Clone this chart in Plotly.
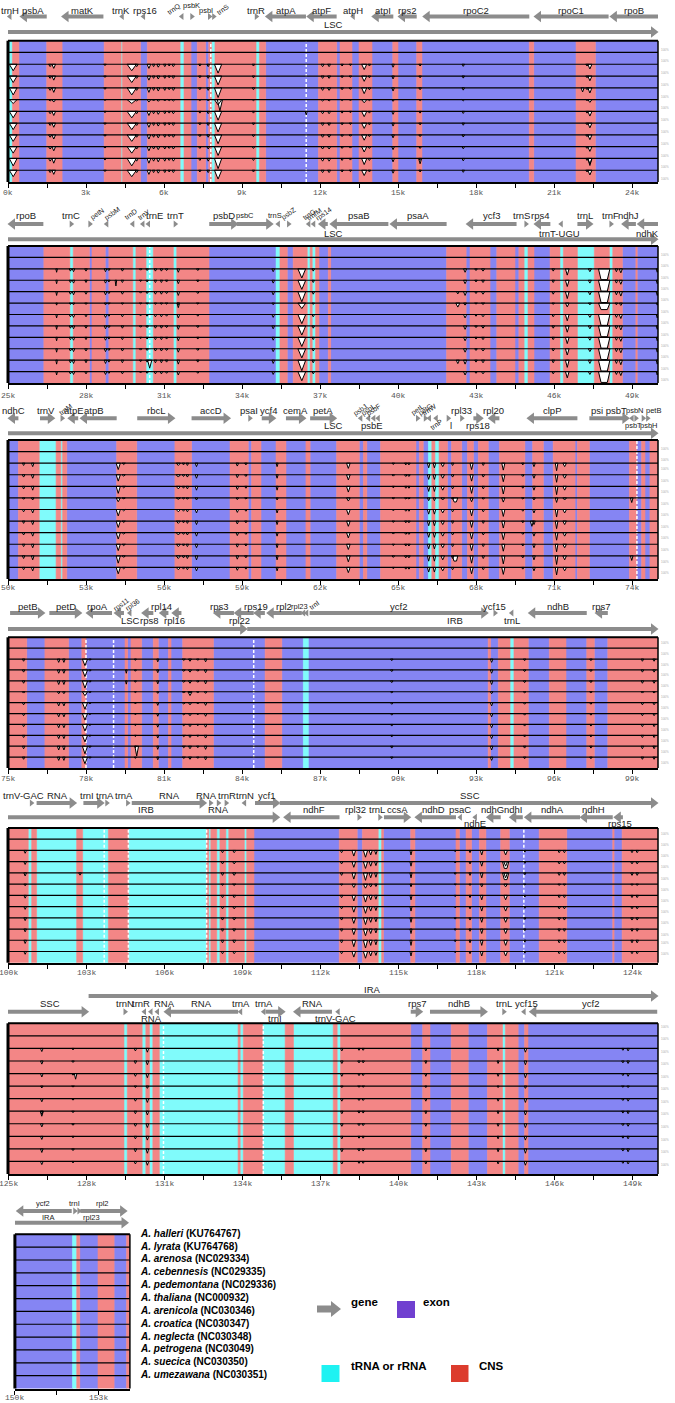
import plotly.graph_objects as go

# ------------------------------------------------------------------ data
SPECIES = ["A. halleri", "A. lyrata", "A. arenosa", "A. cebennesis", "A. pedemontana",
           "A. thaliana", "A. arenicola", "A. croatica", "A. neglecta", "A. petrogena",
           "A. suecica", "A. umezawana"]
ACCESSIONS = ["KU764767", "KU764768", "NC029334", "NC029335", "NC029336", "NC000932",
              "NC030346", "NC030347", "NC030348", "NC03049", "NC030350", "NC030351"]

PANEL_KB = [(0, 25), (25, 50), (50, 75), (75, 100), (100, 125), (125, 150), (150, 154.15)]

# relative dip depth per species row (reference and A. lyrata are flat)
ROW_SCALE = [0, 0, 1.0, 1.0, 1.1, 0.6, 1.0, 1.0, 1.0, 1.0, 1.15, 1.0]

# annotation background: (segment end kb, kind)  e=exon, t=tRNA/rRNA, c=CNS
SEG_P1 = [(0.17, "t"), (0.42, "c"), (1.49, "e"), (2.08, "c"), (3.70, "e"), (4.35, "c"), (4.40, "t"),
          (5.10, "c"), (5.36, "e"), (6.62, "c"), (6.77, "t"), (7.04, "c"), (7.28, "e"), (7.60, "c"),
          (7.72, "e"), (7.83, "c"), (7.96, "t"), (9.54, "c"), (9.67, "t"), (9.91, "c"), (11.94, "e"),
          (12.64, "c"), (12.77, "e"), (13.23, "c"), (13.50, "e"), (14.00, "c"), (14.80, "e"),
          (15.00, "c"), (15.72, "e"), (15.92, "c"), (20.05, "e"), (20.22, "c"), (21.85, "e"),
          (22.59, "c"), (25.00, "e")]
SEG_P2 = [(26.38, "e"), (27.38, "c"), (27.51, "t"), (28.13, "c"), (28.23, "e"), (28.74, "c"),
          (28.88, "e"), (29.80, "c"), (29.92, "t"), (30.31, "c"), (30.59, "t"), (31.36, "c"),
          (31.49, "t"), (32.73, "c"), (35.31, "e"), (35.46, "t"), (35.74, "c"), (35.97, "e"),
          (36.51, "c"), (36.62, "t"), (36.70, "c"), (36.83, "t"), (36.96, "c"), (37.32, "e"),
          (37.41, "c"), (41.87, "e"), (42.62, "c"), (42.77, "e"), (43.54, "c"), (43.80, "e"),
          (44.50, "c"), (44.65, "e"), (44.85, "c"), (45.00, "t"), (45.23, "c"), (45.85, "e"),
          (46.23, "c"), (46.36, "t"), (46.90, "c"), (47.55, "t"), (48.13, "c"), (48.26, "t"),
          (48.63, "c"), (49.15, "e"), (49.20, "c"), (50.00, "e")]
SEG_P3 = [(50.40, "e"), (51.20, "c"), (51.85, "t"), (52.03, "c"), (52.10, "t"), (52.26, "c"),
          (54.18, "e"), (54.95, "c"), (56.42, "e"), (57.06, "c"), (58.54, "e"), (59.24, "c"),
          (59.37, "e"), (59.73, "c"), (60.31, "e"), (60.69, "c"), (61.46, "e"), (61.62, "c"),
          (62.64, "e"), (63.51, "c"), (63.67, "e"), (63.80, "c"), (64.33, "e"), (65.69, "c"),
          (65.82, "e"), (65.97, "c"), (66.17, "e"), (66.30, "t"), (66.42, "c"), (66.58, "t"),
          (66.90, "c"), (67.06, "e"), (67.45, "c"), (67.67, "e"), (67.90, "c"), (68.09, "e"),
          (68.47, "c"), (68.90, "e"), (69.88, "c"), (70.18, "e"), (70.59, "c"), (70.97, "e"),
          (71.81, "c"), (71.90, "e"), (72.36, "c"), (73.90, "e"), (74.18, "c"), (74.37, "e"),
          (74.50, "c"), (74.69, "e"), (75.00, "c")]
SEG_P4 = [(75.72, "c"), (76.42, "e"), (77.33, "c"), (77.84, "e"), (78.00, "c"), (79.50, "e"),
          (79.60, "c"), (79.73, "e"), (80.14, "c"), (80.59, "e"), (80.78, "c"), (81.17, "e"),
          (81.27, "c"), (81.72, "e"), (82.90, "c"), (84.89, "e"), (85.53, "c"), (86.36, "e"),
          (86.55, "t"), (93.47, "e"), (93.56, "c"), (93.86, "e"), (94.31, "c"), (94.46, "t"),
          (95.01, "c"), (95.82, "e"), (96.46, "c"), (97.26, "e"), (97.55, "c"), (98.07, "e"),
          (100.0, "c")]
SEG_P5 = [(100.78, "c"), (100.91, "t"), (101.10, "c"), (102.64, "t"), (102.87, "c"), (103.86, "t"),
          (104.63, "c"), (107.64, "t"), (107.72, "c"), (107.80, "t"), (108.03, "c"), (108.15, "t"),
          (108.38, "c"), (108.49, "t"), (109.09, "c"), (109.18, "t"), (109.46, "c"), (112.74, "e"),
          (113.43, "c"), (113.63, "e"), (114.24, "c"), (114.37, "t"), (114.44, "c"), (115.49, "e"),
          (115.65, "c"), (117.23, "e"), (117.36, "c"), (117.62, "e"), (117.83, "c"), (118.13, "e"),
          (118.38, "c"), (118.95, "e"), (119.28, "c"), (120.43, "e"), (121.49, "c"), (123.26, "e"),
          (123.31, "c"), (123.62, "e"), (125.00, "c")]
SEG_P6 = [(129.46, "c"), (129.59, "t"), (130.16, "c"), (130.30, "t"), (130.44, "c"), (130.57, "t"),
          (130.82, "c"), (133.85, "t"), (133.93, "c"), (134.05, "t"), (134.79, "c"), (135.66, "t"),
          (135.98, "c"), (137.51, "t"), (137.66, "c"), (137.79, "t"), (140.49, "c"), (140.95, "e"),
          (141.23, "c"), (142.05, "e"), (142.70, "c"), (143.44, "e"), (144.02, "c"), (144.13, "t"),
          (144.62, "c"), (144.87, "e"), (145.00, "c"), (150.00, "e")]
SEG_P7 = [(152.08, "e"), (152.23, "t"), (152.34, "c"), (153.00, "e"), (153.58, "c"), (154.03, "e"),
          (154.15, "c")]
SEGMENTS = [SEG_P1, SEG_P2, SEG_P3, SEG_P4, SEG_P5, SEG_P6, SEG_P7]

# white dashed boundaries (kb)
DASHES = [[7.80, 11.47], [30.45], [74.19], [78.0, 79.06, 84.45],
          [103.70, 104.63, 107.64, 119.84], [130.98, 134.82], []]

# conservation dips shared by the compared rows: (kb, depth as row fraction, half width kb[, flat half width])
DIPS_P1 = [(0.20, 0.55, 0.15), (1.62, 0.20, 0.06), (1.76, 0.35, 0.07), (3.73, 0.12, 0.05),
           (4.76, 0.55, 0.18), (4.95, 0.20, 0.06), (5.42, 0.35, 0.07), (5.60, 0.20, 0.05),
           (5.78, 0.25, 0.06), (6.03, 0.20, 0.05), (6.20, 0.15, 0.05), (6.36, 0.20, 0.06),
           (7.38, 0.15, 0.05), (7.70, 0.20, 0.05), (8.08, 0.75, 0.14), (9.44, 0.15, 0.05),
           (12.10, 0.20, 0.06), (12.35, 0.20, 0.06), (12.85, 0.15, 0.05), (13.17, 0.12, 0.05),
           (13.70, 0.45, 0.10), (13.90, 0.15, 0.05), (14.81, 0.25, 0.05), (15.85, 0.15, 0.05),
           (17.51, 0.18, 0.05), (22.27, 0.15, 0.05), (22.38, 0.40, 0.08)]
DIPS_P2 = [(26.87, 0.30, 0.03), (27.40, 0.20, 0.05), (27.52, 0.25, 0.05), (28.00, 0.20, 0.05),
           (28.75, 0.25, 0.05), (28.88, 0.15, 0.05), (29.40, 0.20, 0.05), (30.10, 0.12, 0.05),
           (30.35, 0.15, 0.05), (30.67, 0.20, 0.05), (30.90, 0.20, 0.05), (31.10, 0.15, 0.05),
           (31.55, 0.30, 0.05), (32.30, 0.15, 0.05), (35.20, 0.25, 0.05), (36.30, 0.80, 0.15),
           (36.74, 0.20, 0.05), (42.58, 0.30, 0.06), (43.00, 0.15, 0.05), (43.27, 0.20, 0.06),
           (45.97, 0.20, 0.05), (46.51, 0.55, 0.07), (47.38, 0.25, 0.06), (47.93, 0.95, 0.22, 0.12),
           (48.40, 0.25, 0.05), (48.57, 0.35, 0.06), (49.97, 0.30, 0.04)]
DIPS_P3 = [(50.60, 0.20, 0.05), (50.95, 0.30, 0.05), (54.24, 0.55, 0.08), (54.45, 0.12, 0.06),
           (56.55, 0.20, 0.08), (56.75, 0.15, 0.05), (56.90, 0.20, 0.05), (57.25, 0.30, 0.05),
           (58.82, 0.25, 0.05), (59.15, 0.15, 0.05), (60.35, 0.30, 0.04), (63.09, 0.45, 0.07),
           (64.82, 0.12, 0.05), (65.30, 0.15, 0.05), (65.42, 0.15, 0.05), (66.18, 0.40, 0.05),
           (66.40, 0.40, 0.05), (66.72, 0.30, 0.07), (67.10, 0.20, 0.05), (67.83, 0.55, 0.06),
           (68.28, 0.20, 0.05), (69.05, 0.60, 0.06), (69.80, 0.15, 0.05), (70.23, 0.30, 0.05),
           (71.10, 0.65, 0.05), (71.41, 0.30, 0.07)]
DIPS_P4 = [(75.60, 0.20, 0.05), (76.95, 0.30, 0.05), (77.15, 0.30, 0.05), (77.96, 0.60, 0.10),
           (78.15, 0.12, 0.05), (79.90, 0.12, 0.04), (80.76, 0.25, 0.04), (81.76, 0.12, 0.06),
           (82.00, 0.20, 0.06), (82.30, 0.12, 0.05), (82.60, 0.25, 0.05), (89.76, 0.15, 0.05),
           (93.60, 0.30, 0.05), (94.87, 0.15, 0.05), (97.42, 0.15, 0.05), (99.40, 0.20, 0.05),
           (99.85, 0.20, 0.05)]
DIPS_P5 = [(100.66, 0.25, 0.05), (108.25, 0.20, 0.05), (108.70, 0.20, 0.06), (112.83, 0.20, 0.05),
           (113.30, 0.50, 0.07), (113.75, 0.60, 0.08), (113.95, 0.40, 0.06), (114.15, 0.35, 0.05),
           (115.50, 0.40, 0.04), (117.20, 0.12, 0.04), (117.77, 0.20, 0.04), (118.22, 0.40, 0.05),
           (119.14, 0.40, 0.07), (119.88, 0.15, 0.04), (121.20, 0.20, 0.05), (121.40, 0.20, 0.05),
           (124.00, 0.20, 0.05), (124.20, 0.20, 0.05)]
DIPS_P6 = [(126.30, 0.25, 0.05), (127.50, 0.12, 0.05), (129.90, 0.20, 0.05), (130.36, 0.30, 0.05),
           (137.84, 0.20, 0.05), (138.50, 0.15, 0.05), (138.66, 0.15, 0.05), (141.07, 0.20, 0.04),
           (143.85, 0.20, 0.04), (144.90, 0.30, 0.05), (148.65, 0.15, 0.05), (148.85, 0.20, 0.05)]
DIPS = [DIPS_P1, DIPS_P2, DIPS_P3, DIPS_P4, DIPS_P5, DIPS_P6, []]

# row specific dips {row index: [...]}
EXTRA = [
    {5: [(8.15, 0.95, 0.10)], 6: [(11.47, 0.30, 0.04)], 4: [(22.10, 0.35, 0.06)],
     10: [(15.85, 0.45, 0.06), (22.38, 0.60, 0.08)]},
    {3: [(29.15, 0.50, 0.03)], 4: [(42.30, 0.20, 0.05)], 5: [(42.30, 0.35, 0.08), (31.55, 0.40, 0.05)],
     10: [(30.45, 0.70, 0.08), (42.30, 0.30, 0.06)]},
    {5: [(73.99, 0.40, 0.05), (67.20, 0.35, 0.10, 0.04)], 10: [(73.99, 0.40, 0.05), (67.20, 0.45, 0.10, 0.05)],
     7: [(70.15, 0.45, 0.06)]},
    {10: [(79.95, 0.90, 0.07)], 5: [(82.00, 0.35, 0.08)], 3: [(79.55, 0.30, 0.03)], 4: [(79.55, 0.30, 0.03)]},
    {3: [(119.14, 0.60, 0.12, 0.05)], 4: [(119.14, 0.60, 0.12, 0.05), (102.77, 0.20, 0.05)]},
    {4: [(127.60, 0.45, 0.05)], 7: [(126.30, 0.40, 0.06)]},
    {},
]

# genes: (label, start kb, end kb (arrow head), label kind[, label kb])
GENES_P1 = [("trnH", 0.12, 0.03, ""), ("psbA", 1.49, 0.46, ""), ("matK", 3.67, 2.06, ""),
            ("trnK", 4.43, 4.36, "", 4.33), ("rps16", 5.28, 5.15, "", 5.25), ("trnQ", 6.74, 6.64, "rot", 6.40),
            ("psbK", 7.02, 7.12, "hi"), ("psbI", 7.70, 7.80, "small", 7.62), ("trnS", 7.86, 7.96, "rot", 8.25),
            ("trnR", 9.50, 9.60, ""), ("atpA", 11.46, 9.90, ""), ("atpF", 12.64, 11.49, ""),
            ("atpH", 13.33, 13.23, ""), ("atpI", 14.82, 13.99, ""), ("rps2", 15.72, 15.00, ""),
            ("rpoC2", 20.05, 15.95, ""), ("rpoC1", 23.10, 20.23, ""), ("rpoB", 25.00, 23.15, "")]
GENES_P2 = [("rpoB", 26.36, 25.00, ""), ("trnC", 27.38, 27.48, ""), ("petN", 28.10, 28.20, "rot", 28.45),
            ("psbM", 28.85, 28.75, "rot", 29.00), ("trnD", 29.85, 29.75, "rot", 29.70),
            ("trnY", 30.24, 30.14, "rot", 30.22), ("trnE", 30.45, 30.36, "", 30.62),
            ("trnT", 31.38, 31.48, ""), ("psbD", 32.74, 33.85, ""), ("psbC", 33.80, 35.20, "small", 34.10),
            ("trnS", 35.45, 35.35, "small", 35.25), ("psbZ", 35.74, 35.84, "rot"), ("trnG", 36.62, 36.52, "rot"),
            ("trnfM", 36.81, 36.71, "rot"), ("rps14", 37.30, 36.94, "rot", 37.15),
            ("psaB", 39.63, 37.38, ""), ("psaA", 41.87, 39.69, ""), ("ycf3", 44.56, 42.62, ""),
            ("trnS", 44.87, 44.97, "", 44.75), ("rps4", 45.86, 45.23, "", 45.45),
            ("trnT-UGU", 46.33, 46.23, "low", 46.20), ("trnL", 46.90, 47.50, ""), ("trnF", 48.14, 48.24, ""),
            ("ndhJ", 49.15, 48.60, ""), ("ndhK", 50.00, 49.20, "low")]
GENES_P3 = [("ndhC", 50.40, 50.00, ""), ("trnV", 51.23, 51.80, "", 51.45), ("trnM", 52.04, 52.12, "rot", 52.22),
            ("atpE", 52.70, 52.30, "", 52.55), ("atpB", 54.18, 52.77, "", 53.30), ("rbcL", 54.97, 56.42, ""),
            ("accD", 57.06, 58.56, ""), ("psaI", 59.25, 59.35, "", 59.25), ("ycf4", 59.76, 60.30, ""),
            ("cemA", 60.69, 61.46, ""), ("petA", 61.62, 62.64, ""), ("psbJ", 63.62, 63.52, "rot"),
            ("psbL", 63.92, 63.82, "rot"), ("psbF", 64.12, 64.02, "rot"), ("psbE", 64.30, 64.18, "low", 64.00),
            ("petL", 65.70, 65.80, "rot"), ("petG", 66.00, 66.10, "rot"), ("trnW", 66.26, 66.16, "rot"),
            ("trnP", 66.52, 66.42, "rotlow"), ("l", 66.88, 66.98, "low", 67.05), ("rpl33", 67.40, 67.50, ""),
            ("rps18", 67.90, 68.28, "low"), ("rpl20", 68.90, 68.47, ""), ("clpP", 71.90, 69.96, ""),
            ("psi psbT", 72.36, 73.90, ""), ("psbN", 74.05, 73.96, "small", 74.12),
            ("psbT", 74.10, 74.20, "small-low", 74.05),
            ("psbH", 74.38, 74.48, "small-low", 74.65), ("petB", 74.52, 74.68, "small", 74.82)]
GENES_P4 = [("petB", 75.08, 76.42, ""), ("petD", 76.59, 77.84, ""), ("rpoA", 79.00, 78.00, "", 78.45),
            ("rps11", 79.46, 79.08, "rot", 79.35), ("rpl36", 79.74, 79.64, "rot", 79.80),
            ("rps8", 80.59, 80.14, "low", 80.42), ("rpl14", 81.17, 80.82, "", 80.90),
            ("rpl16", 81.67, 81.30, "low", 81.40), ("rps3", 83.69, 82.90, "", 83.10),
            ("rpl22", 84.45, 83.70, "low", 83.90), ("rps19", 84.88, 84.45, "", 84.55),
            ("rpl2", 86.30, 84.95, "", 85.60), ("rpl23", 86.42, 86.32, "small", 86.20),
            ("trnI", 86.52, 86.46, "rot", 86.75), ("ycf2", 86.60, 93.47, ""), ("ycf15", 93.60, 93.86, ""),
            ("trnL", 94.43, 94.33, "low"), ("ndhB", 97.26, 95.01, ""), ("rps7", 98.07, 97.58, "")]
GENES_P5 = [("trnV-GAC", 100.85, 100.95, "", 100.60), ("RNA", 101.10, 102.64, "", 101.90),
            ("trnI", 102.90, 103.70, "", 103.02), ("trnA", 103.76, 103.84, "", 103.72),
            ("trnA", 104.56, 104.64, "", 104.45), ("RNA", 104.76, 107.64, "", 106.20),
            ("RNA", 107.74, 107.84, "", 107.62), ("RNA", 108.04, 108.14, "low"), ("trnR", 108.34, 108.44, "", 108.42),
            ("trnN", 109.14, 109.06, "", 109.12), ("ycf1", 109.50, 110.46, "", 109.95),
            ("ndhF", 112.75, 110.60, "d", 111.75), ("rpl32", 113.45, 113.55, "d", 113.35),
            ("trnL", 114.25, 114.35, "d", 114.20), ("ccsA", 114.46, 115.49, "d"),
            ("ndhD", 117.23, 115.65, "d", 116.35), ("psaC", 117.45, 117.35, "d"),
            ("ndhE", 118.10, 117.85, "dlow"), ("ndhG", 118.95, 118.40, "d", 118.65),
            ("ndhI", 119.80, 119.28, "d", 119.45), ("ndhA", 122.00, 119.86, "d", 120.95),
            ("ndhH", 123.26, 122.00, "d", 122.50), ("rps15", 123.65, 123.30, "dlow", 123.55)]
GENES_P6 = [("trnN", 129.45, 129.55, ""), ("trnR", 130.30, 130.20, "", 130.12), ("RNA", 130.55, 130.45, "low"),
            ("RNA", 130.80, 130.70, "", 131.0), ("RNA", 133.85, 131.00, ""), ("trnA", 134.00, 133.90, ""),
            ("trnA", 134.88, 134.80, ""), ("trnI", 134.90, 135.66, "low"), ("RNA", 137.46, 135.98, ""),
            ("trnV-GAC", 137.75, 137.65, "low", 137.60), ("rps7", 140.49, 140.95, ""),
            ("ndhB", 141.23, 143.44, ""), ("trnL", 144.02, 144.12, ""), ("ycf15", 144.90, 144.80, "", 144.95),
            ("ycf2", 149.97, 145.05, "", 147.40)]
GENES_P7 = [("ycf2", 152.05, 150.05, "", 151.00), ("trnI", 152.12, 152.20, ""),
            ("rpl23", 152.28, 152.34, "low", 152.75), ("rpl2", 152.36, 154.05, "", 153.15)]
GENES = [GENES_P1, GENES_P2, GENES_P3, GENES_P4, GENES_P5, GENES_P6, GENES_P7]

# genome regions: (label, start, end, row, label kb)
REGIONS = [
    [("LSC", 0, 25, "bar", 12.5)],
    [("LSC", 25, 50, "bar", 37.5)],
    [("LSC", 50, 75, "bar", 62.5)],
    [("LSC", 75, 84.2, "bar", 79.7), ("IRB", 84.2, 100, "bar", 92.2)],
    [("IRB", 100, 110.45, "bar", 105.3), ("SSC", 110.45, 125, "gene", 117.75)],
    [("SSC", 125, 128.1, "gene", 126.6), ("IRA", 128.1, 150, "top", 139.0)],
    [("IRA", 150, 154.1, "bar", 151.2)],
]

# ------------------------------------------------------------------ layout
W, H = 675, 1403
BOX = [(8, 658, 40.7, 182.0), (8, 658, 246.0, 383.0), (8, 658, 440.0, 579.0),
       (8, 658, 637.3, 768.0), (8, 658, 828.0, 962.7), (8, 658, 1023.3, 1174.0),
       (14.9, 129.9, 1234.3, 1388.5)]
TICK_LABEL_Y = [192.0, 395.0, 588.0, 778.0, 972.7, 1183.5, 1397.5]
# pixel offsets above the box top for labels / arrows
LEVELS = [dict(lab=30.7, arr=24.2, low=16.7, bar=8.7),
          dict(lab=31.0, arr=22.0, low=13.0, bar=6.7),
          dict(lab=29.0, arr=21.7, low=14.3, bar=6.7),
          dict(lab=31.3, arr=24.3, low=16.6, bar=8.3),
          dict(lab=33.0, arr=25.0, low=18.7, bar=10.7, dlow=5.0),
          dict(tlab=34.3, tbar=27.3, lab=20.3, arr=11.6, low=5.0),
          dict(lab=31.0, arr=23.3, low=16.6, bar=11.6)]
LABEL_SIZE = [9.5, 9.5, 9.5, 9.5, 9.5, 9.5, 7.5]
FILL = {"e": "#8585f3", "t": "#80fbfb", "c": "#f38686"}
GRAY = "#8c8c8c"
TICKFONT = dict(family="Liberation Mono", size=8, color="#555555")

fig = go.Figure()
annotations, shapes, axes = [], [], {}

for i, (k0, k1) in enumerate(PANEL_KB):
    n = "" if i == 0 else str(i + 1)
    xa, ya = "x" + n, "y" + n
    px0, px1, top, bot = BOX[i]
    rowh = (bot - top) / 12
    lv = LEVELS[i]
    dom_top = max(0.0, top - max(lv.values()) - 10)
    ppk = (px1 - px0) / (k1 - k0)

    def yv(off, top=top, bot=bot, rowh=rowh):
        return (bot - top + off) / rowh

    common = dict(xaxis=xa, yaxis=ya, hoverinfo="skip", showlegend=False)

    # coloured annotation background
    prev = k0
    polys = {k: ([], []) for k in FILL}
    for end, kind in SEGMENTS[i]:
        xs, ys = polys[kind]
        xs.extend([prev, end, end, prev, prev, None])
        ys.extend([0, 0, 12, 12, 0, None])
        prev = end
    for kind, (xs, ys) in polys.items():
        if xs:
            fig.add_trace(go.Scatter(x=xs, y=ys, mode="lines", fill="toself", fillcolor=FILL[kind],
                                     line=dict(width=0.6, color=FILL[kind]), **common))

    xs, ys = [], []
    for p in DASHES[i]:
        xs.extend([p, p, None])
        ys.extend([0, 12, None])
    if xs:
        fig.add_trace(go.Scatter(x=xs, y=ys, mode="lines",
                                 line=dict(color="white", width=1.5, dash="3px,2px"), **common))

    # conservation curves (white dips hanging from the 100% line)
    for r in range(12):
        top_y = 12 - r
        items = []
        if ROW_SCALE[r] > 0:
            items = [(p, d * ROW_SCALE[r], *rest) for p, d, *rest in DIPS[i]]
        items += EXTRA[i].get(r, [])
        xs, ys = [], []
        for pos, d, hw, *fl in items:
            f = fl[0] if fl else 0.0
            d = min(d, 0.95)
            xs.extend([pos - hw, pos - f, pos + f, pos + hw, pos - hw, None])
            ys.extend([top_y, top_y - d, top_y - d, top_y, top_y, None])
        if xs:
            fig.add_trace(go.Scatter(x=xs, y=ys, mode="lines", fill="toself", fillcolor="white",
                                     line=dict(color="black", width=1), **common))

    xs, ys = [], []
    for r in range(1, 12):
        xs.extend([k0, k1, None])
        ys.extend([r, r, None])
    fig.add_trace(go.Scatter(x=xs, y=ys, mode="lines", line=dict(color="black", width=1.2), **common))

    # frame
    for (x0, x1, y0, y1, w) in [(px0, px0, top, bot, 3), (px0, px1, top, top, 2), (px1, px1, top, bot, 1.5)]:
        shapes.append(dict(type="line", xref="paper", yref="paper", x0=x0 / W, x1=x1 / W,
                           y0=1 - y0 / H, y1=1 - y1 / H, line=dict(color="black", width=w)))

    # gene / region arrows
    shaft_x, shaft_y = [], []
    heads = {"r": ([], []), "l": ([], [])}
    small = {"r": ([], []), "l": ([], [])}

    def add_arrow(a, b, y, ppk=ppk, shaft_x=shaft_x, shaft_y=shaft_y, heads=heads, small=small):
        d = "r" if b >= a else "l"
        sgn = 1 if d == "r" else -1
        if abs(b - a) * ppk < 9:
            small[d][0].append((a + b) / 2)
            small[d][1].append(y)
        else:
            hc = b - sgn * 4.5 / ppk
            shaft_x.extend([a, hc, None])
            shaft_y.extend([y, y, None])
            heads[d][0].append(hc)
            heads[d][1].append(y)

    for g in GENES[i]:
        name, a, b, kind = g[:4]
        lx = g[4] if len(g) > 4 else (a + b) / 2
        if kind in ("d", "dlow"):
            ay = lv["bar"]
            ly = lv["low"] if kind == "d" else lv["dlow"]
        else:
            ay = lv["arr"]
            ly = lv["low"] if kind in ("low", "rotlow", "small-low") else lv["lab"]
        size, angle = LABEL_SIZE[i], 0
        if kind in ("rot", "rotlow"):
            size, angle, ly = 7, -35, ly + 1
        elif kind in ("small", "small-low"):
            size = 7.5
        elif kind == "hi":
            size, ly = 7.5, ly + 5
        add_arrow(a, b, yv(ay))
        annotations.append(dict(x=lx, y=yv(ly), xref=xa, yref=ya, text=name, showarrow=False,
                                textangle=angle, font=dict(size=size, color="#222", family="Liberation Sans")))

    for name, a, b, lvl, lx in REGIONS[i]:
        if lvl == "bar":
            ay, ly = lv["bar"], lv["low"]
        elif lvl == "gene":
            ay, ly = lv["arr"], lv["lab"]
        else:
            ay, ly = lv["tbar"], lv["tlab"]
        add_arrow(a, b, yv(ay))
        annotations.append(dict(x=lx, y=yv(ly), xref=xa, yref=ya, text=name, showarrow=False,
                                font=dict(size=LABEL_SIZE[i], color="#222", family="Liberation Sans")))

    fig.add_trace(go.Scatter(x=shaft_x, y=shaft_y, mode="lines", line=dict(color=GRAY, width=4), **common))
    for d, sym in (("r", "triangle-right"), ("l", "triangle-left")):
        fig.add_trace(go.Scatter(x=heads[d][0], y=heads[d][1], mode="markers", cliponaxis=False,
                                 marker=dict(symbol=sym, size=10, color=GRAY), **common))
        fig.add_trace(go.Scatter(x=small[d][0], y=small[d][1], mode="markers", cliponaxis=False,
                                 marker=dict(symbol=sym, size=6, color=GRAY), **common))

    # faint identity scale at the right of each row
    if i < 6:
        for r in range(12):
            annotations.append(dict(x=660 / W, y=1 - (top + (r + 0.5) * rowh) / H, xref="paper",
                                    yref="paper", text="100%", showarrow=False, xanchor="left",
                                    borderpad=0,
                                    font=dict(size=3, color="#aaaaaa", family="Liberation Sans")))

    # ticks every 1.5 kb, labels every 3 kb (drawn as text just under the axis)
    tv = []
    t = k0
    while t <= k1 + 1e-9:
        tv.append(t)
        if abs((t - k0) % 3) < 1e-9:
            annotations.append(dict(x=t, y=1 - TICK_LABEL_Y[i] / H, xref=xa, yref="paper", text=f"{t:g}k",
                                    showarrow=False, yanchor="middle", font=TICKFONT))
        t += 1.5
    axes["xaxis" + n] = dict(domain=[px0 / W, px1 / W], range=[k0, k1], anchor=ya, tickmode="array",
                             tickvals=tv, showticklabels=False, ticks="outside",
                             ticklen=4, tickcolor="black",
                             showline=True, linecolor="black", linewidth=2, showgrid=False, zeroline=False,
                             fixedrange=True)
    axes["yaxis" + n] = dict(domain=[1 - bot / H, 1 - dom_top / H], range=[0, (bot - dom_top) / rowh],
                             visible=False, anchor=xa, fixedrange=True)

# ------------------------------------------------------------------ species labels + legend
p7top, p7bot = BOX[6][2], BOX[6][3]
rh7 = (p7bot - p7top) / 12
for r, (sp, acc) in enumerate(zip(SPECIES, ACCESSIONS)):
    annotations.append(dict(x=138.4 / W, y=1 - (p7top + (r + 0.5) * rh7) / H, xref="paper", yref="paper",
                            text=f"<b><i>{sp}</i> ({acc})</b>", showarrow=False, xanchor="left",
                            font=dict(size=10, color="black", family="Liberation Sans")))


def fx(px):
    return px / W


def fy(py):
    return 1 - py / H


arrow_pts = [(317, 1305.5), (331, 1305.5), (331, 1301), (341, 1309), (331, 1317), (331, 1312.5), (317, 1312.5)]
path = "M " + " L ".join(f"{fx(a):.5f} {fy(b):.5f}" for a, b in arrow_pts) + " Z"
shapes.append(dict(type="path", xref="paper", yref="paper", path=path, fillcolor=GRAY, line=dict(width=0)))
for (x0, x1, y0, y1, col) in [(397, 415, 1301, 1318, "#7040d0"), (321.5, 339.5, 1365, 1382, "#1ef2f2"),
                              (451, 468.5, 1365, 1382, "#dc3c2d")]:
    shapes.append(dict(type="rect", xref="paper", yref="paper", x0=fx(x0), x1=fx(x1), y0=fy(y1), y1=fy(y0),
                       fillcolor=col, line=dict(width=0)))
for txt, px, py in [("gene", 349, 1310), ("exon", 421, 1310), ("tRNA or rRNA", 349, 1374), ("CNS", 477, 1374)]:
    annotations.append(dict(x=fx(px), y=fy(py), xref="paper", yref="paper", text=f"<b>{txt}</b>",
                            showarrow=False, xanchor="left",
                            font=dict(size=11.5, color="black", family="Liberation Sans")))

fig.update_layout(width=W, height=H, margin=dict(l=0, r=0, t=0, b=0), showlegend=False,
                  plot_bgcolor="white", paper_bgcolor="white", hovermode=False,
                  annotations=annotations, shapes=shapes, **axes)

# the page body has a default 8px margin; drop it so the figure fills the window exactly
fig.write_html("out.html", config={"displayModeBar": False, "staticPlot": True},
               post_script="document.body.style.margin='0px';")
